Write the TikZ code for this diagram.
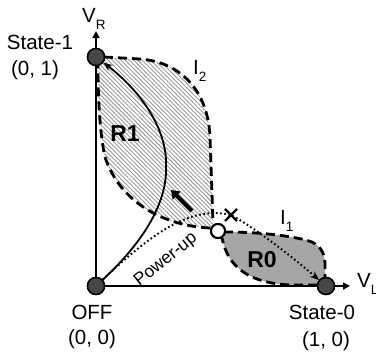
\documentclass[tikz,border=0pt]{standalone}
\usepackage{fontspec}
\setmainfont{Liberation Sans}
\usetikzlibrary{arrows.meta,patterns.meta}
\newcommand{\lowidx}[1]{\raisebox{-0.32em}{\fontsize{13.5}{14}\selectfont #1}}
\begin{document}
\begin{tikzpicture}[x=1pt,y=-1pt,
  bound/.style={line width=2.8pt, dash pattern=on 9pt off 5pt},
  dotnode/.style={circle, draw, line width=1.4pt, fill=black!72, minimum size=17pt, inner sep=0pt},
  opennode/.style={circle, draw, line width=2pt, fill=white, minimum size=14pt, inner sep=0pt},
  axisline/.style={line width=1.8pt, -{Triangle[length=7pt,width=7pt]}},
  lbl/.style={font=\fontsize{20.5}{21}\selectfont, inner sep=0pt},
  rlbl/.style={font=\fontsize{23}{24}\selectfont\bfseries, inner sep=0pt},
  solidcurve/.style={line width=1.8pt, -{Stealth[length=9pt,width=7pt]}},
  dotcurve/.style={line width=2pt, dash pattern=on 1.6pt off 2.6pt, -{Stealth[length=9pt,width=7pt]}},
  thickarrow/.style={line width=4pt, -{Triangle[length=8pt,width=11pt]}},
  crossmark/.style={line width=2.2pt}
]
\useasboundingbox (0,0) rectangle (376,355);

% regions
\fill[pattern={Lines[angle=-45,distance=3pt,line width=0.9pt]}, pattern color=black!40]
  (97,57) -- (140,59) .. controls (180,62) and (208,90) .. (210,137)
  -- (213,224) -- (210,228)
  .. controls (165,226) and (120,203) .. (105,157)
  .. controls (100,135) and (98,100) .. (97,57) -- cycle;
\fill[black!35]
  (224,232) .. controls (260,232) and (295,236) .. (312,242)
  .. controls (322,247) and (325,255) .. (325,265) -- (325,285) -- (290,285)
  .. controls (250,283) and (228,268) .. (222,238) -- cycle;

% coordinates
\coordinate (ytip) at (96,31);
\coordinate (xtip) at (350,286);
\coordinate (x1) at (225,209);
\coordinate (x2) at (237,221);
\coordinate (x3) at (237,209);
\coordinate (x4) at (225,221);
\coordinate (ta) at (192,211);
\coordinate (tb) at (171,190);

% state nodes (placed, drawn later on top)
\path (96,286) node[dotnode] (off) {};
\path (96,57) node[dotnode] (s1) {};
\path (326,286) node[dotnode] (s0) {};
\path (218,231) node[opennode] (mid) {};

% axes
\draw[axisline] (off.center) -- (ytip);
\draw[axisline] (off.center) -- (xtip);

% boundaries
\draw[bound] (104,57) -- (140,59) .. controls (180,62) and (208,90) .. (210,137) -- (213,222);
\draw[bound] (210,228) .. controls (165,226) and (120,203) .. (105,157)
  .. controls (100,135) and (98,100) .. (98,66);
\draw[bound] (224,232) .. controls (260,232) and (295,236) .. (312,242)
  .. controls (322,247) and (325,255) .. (325,265) -- (325,278);
\draw[bound] (317,285) -- (290,285) .. controls (250,283) and (228,268) .. (222,238);

% trajectories
\draw[solidcurve] (off) .. controls (140,245) and (168,205) .. (166,165)
  .. controls (167,130) and (142,92) .. (s1);
\draw[dotcurve] (off) .. controls (150,235) and (190,205) .. (231,215)
  .. controls (255,228) and (290,255) .. (s0);
\draw[thickarrow] (ta) -- (tb);
\draw[crossmark] (x1) -- (x2);
\draw[crossmark] (x3) -- (x4);

% redraw nodes on top
\node[dotnode] at (off) {};
\node[dotnode] at (s1) {};
\node[dotnode] at (s0) {};
\node[opennode] at (mid) {};

% labels
\node[lbl, anchor=base] (t1) at (40,50) {State-1};
\node[lbl, anchor=base] (t1c) at (35,76) {(0, 1)};
\node[lbl, anchor=base] (toff) at (92,320) {OFF};
\node[lbl, anchor=base] (toffc) at (92,345) {(0, 0)};
\node[lbl, anchor=base] (t0) at (322,320) {State-0};
\node[lbl, anchor=base] (t0c) at (326,347) {(1, 0)};
\node[lbl, anchor=base west] (vr) at (82,23) {V\lowidx{R}};
\node[lbl, anchor=base west] (vl) at (357,288) {V\lowidx{L}};
\node[lbl, anchor=base west] (i2) at (193,75) {I\lowidx{2}};
\node[lbl, anchor=base west] (i1) at (280,225) {I\lowidx{1}};
\node[rlbl, anchor=base] (r1) at (125,142) {R1};
\node[rlbl, anchor=base] (r0) at (262,268) {R0};
\node[font=\fontsize{17.5}{18}\selectfont, inner sep=0pt, rotate=38.7] (pu) at (166,260) {Power-up};
\end{tikzpicture}
\end{document}
